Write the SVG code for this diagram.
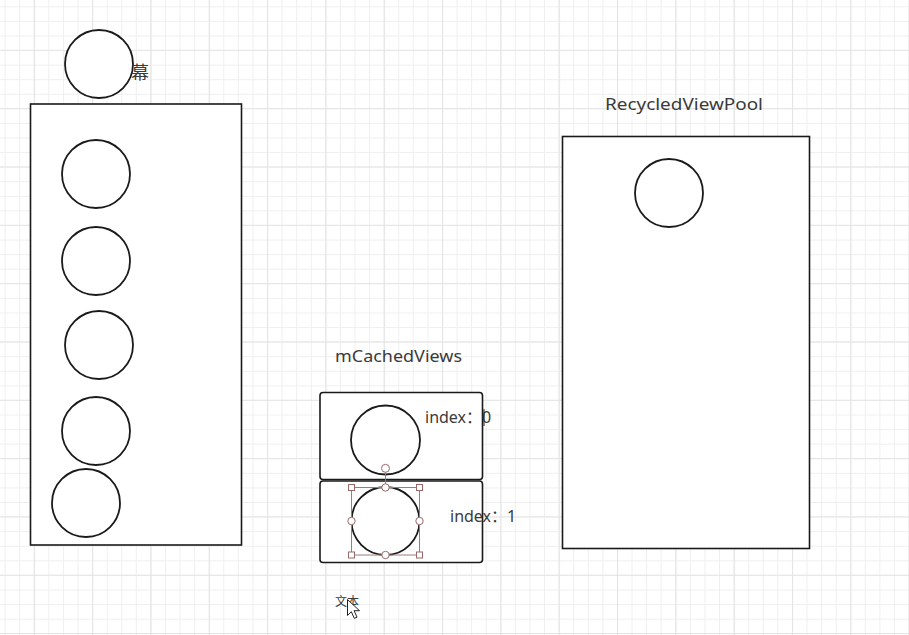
<svg xmlns="http://www.w3.org/2000/svg" width="909" height="635" viewBox="0 0 909 635">
<defs>
<pattern id="minor" patternUnits="userSpaceOnUse" x="4.6" y="6.3" width="14.58" height="14.58">
<path d="M0 0.5H14.58M0.5 0V14.58" fill="none" stroke="#efefef" stroke-width="1"/>
</pattern>
<pattern id="major" patternUnits="userSpaceOnUse" x="33.8" y="49.8" width="58.32" height="58.32">
<path d="M0 0.5H58.32M0.5 0V58.32" fill="none" stroke="#e4e4e4" stroke-width="1.2"/>
</pattern>
<style>
.shape{fill:#fff;stroke:#1a1a1a;stroke-width:1.6}
.circ{fill:#fff;stroke:#1a1a1a;stroke-width:1.8}
.lbl{font-family:"Noto Sans","Noto Sans CJK SC",sans-serif;fill:#3a3a3a}
.sel{fill:none;stroke:#a07a7a;stroke-width:1}
.hnd{fill:#fff;stroke:#9a6a6a;stroke-width:1}
</style>
</defs>
<rect width="909" height="635" fill="#fff"/>
<rect width="909" height="635" fill="url(#minor)"/>
<rect width="909" height="635" fill="url(#major)"/>

<g id="screen">
<rect class="shape" x="30.5" y="104" width="211" height="441"/>
</g>
<g id="screen-item-top">
<circle class="circ" cx="99" cy="64" r="34"/>
<text class="lbl" x="131" y="79" font-size="18">幕</text>
</g>
<g id="screen-item-1"><circle class="circ" cx="96" cy="174" r="34"/></g>
<g id="screen-item-2"><circle class="circ" cx="96" cy="261" r="34"/></g>
<g id="screen-item-3"><circle class="circ" cx="99" cy="345" r="34"/></g>
<g id="screen-item-4"><circle class="circ" cx="96" cy="431" r="34"/></g>
<g id="screen-item-5"><circle class="circ" cx="86" cy="503" r="34"/></g>

<g id="pool">
<text class="lbl" x="605" y="110" font-size="17" textLength="158" lengthAdjust="spacingAndGlyphs">RecycledViewPool</text>
<rect class="shape" x="562.5" y="136.5" width="247" height="412"/>
</g>
<g id="pool-item"><circle class="circ" cx="669" cy="193" r="34"/></g>

<g id="cached-title">
<text class="lbl" x="335" y="362" font-size="16" textLength="127" lengthAdjust="spacingAndGlyphs">mCachedViews</text>
</g>
<g id="cache-0">
<rect class="shape" x="320" y="392.5" width="162.5" height="87" rx="3"/>
<circle class="circ" cx="385.5" cy="440" r="34.5"/>
<text class="lbl" x="425" y="423" font-size="16">index<tspan font-family="'Noto Sans CJK SC',sans-serif">：</tspan>0</text>
<line x1="484" y1="409" x2="484" y2="426" stroke="#222" stroke-width="1"/>
</g>
<g id="cache-1">
<rect class="shape" x="320" y="481" width="162.5" height="81.5" rx="3"/>
<circle class="circ" cx="385.5" cy="521" r="34"/>
<text class="lbl" x="450" y="522" font-size="16">index<tspan font-family="'Noto Sans CJK SC',sans-serif">：</tspan>1</text>
</g>
<g id="selection">
<rect class="sel" x="351.5" y="487.5" width="68" height="67.5"/>
<line class="sel" x1="385.5" y1="472" x2="385.5" y2="487"/>
<circle class="hnd" cx="385.5" cy="468.3" r="4"/>
<rect class="hnd" x="348.5" y="484.5" width="6" height="6"/>
<rect class="hnd" x="416.5" y="484.5" width="6" height="6"/>
<rect class="hnd" x="348.5" y="552" width="6" height="6"/>
<rect class="hnd" x="416.5" y="552" width="6" height="6"/>
<circle class="hnd" cx="385.5" cy="487.5" r="3.7"/>
<circle class="hnd" cx="385.5" cy="555" r="3.7"/>
<circle class="hnd" cx="351.5" cy="521" r="3.7"/>
<circle class="hnd" cx="419.5" cy="521" r="3.7"/>
</g>
<g id="text-tool">
<text class="lbl" x="335" y="606" font-size="12" fill="#444">文本</text>
<path d="M347.5 599.5V615.5L351.3 611.7L354.3 618.3L357 617.2L354.1 610.7L359.5 610.7Z" fill="#fff" stroke="#222" stroke-width="1" stroke-linejoin="round"/>
</g>
<g id="connectors"></g>
</svg>
